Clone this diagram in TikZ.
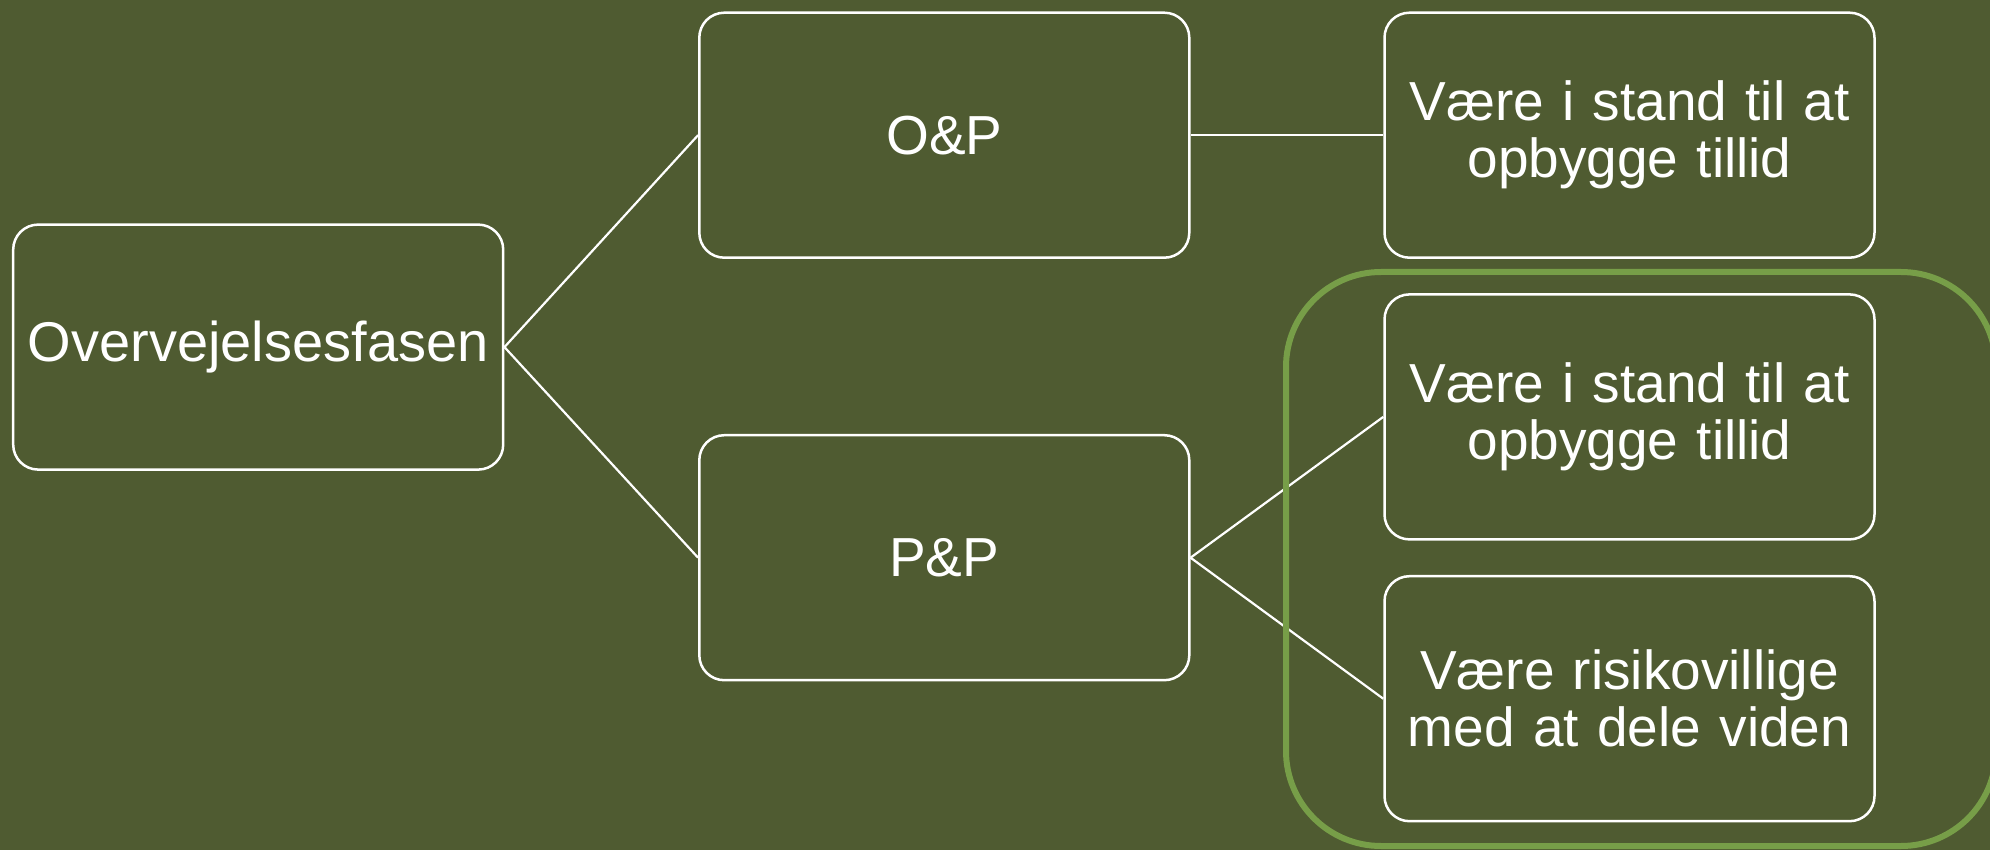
\documentclass[tikz,border=0pt]{standalone}
\usepackage{fontspec}
\setmainfont{Liberation Sans}
\definecolor{bg}{RGB}{79,91,49}
\definecolor{grn}{RGB}{119,158,72}
\begin{document}
\begin{tikzpicture}[x=1pt,y=-1pt,
  box/.style={draw=white, line width=2.5pt, rounded corners=25pt,
    minimum width=490pt, minimum height=245pt, text width=470pt,
    align=center, text=white, inner sep=0pt,
    font=\fontsize{55}{57}\selectfont},
  link/.style={draw=white, line width=2.2pt}]
\useasboundingbox (0,0) rectangle (1990,850);
\fill[bg] (0,0) rectangle (1990,850);
\clip (0,0) rectangle (1990,850);
\node[box] (a) at (258.2,347.1) {\fontsize{56}{57}\selectfont Overvejelsesfasen};
\node[box] (op) at (944.3,135.2) {O\&P};
\node[box] (pp) at (944.3,557.7) {P\&P};
\node[box] (r1) at (1629.5,135.2) {Være i stand til at\\opbygge tillid};
\node[box] (r2) at (1629.5,416.9) {Være i stand til at\\opbygge tillid};
\node[box] (r3) at (1629.5,698.7) {Være risikovillige\\med at dele viden};
\draw[link] (a.east) -- (op.west);
\draw[link] (a.east) -- (pp.west);
\draw[link] (op.east) -- (r1.west);
\draw[link] (pp.east) -- (r2.west);
\draw[link] (pp.east) -- (r3.west);
\draw[grn, line width=6pt, rounded corners=95pt] (1286,272) rectangle (1996,846);
\end{tikzpicture}
\end{document}
